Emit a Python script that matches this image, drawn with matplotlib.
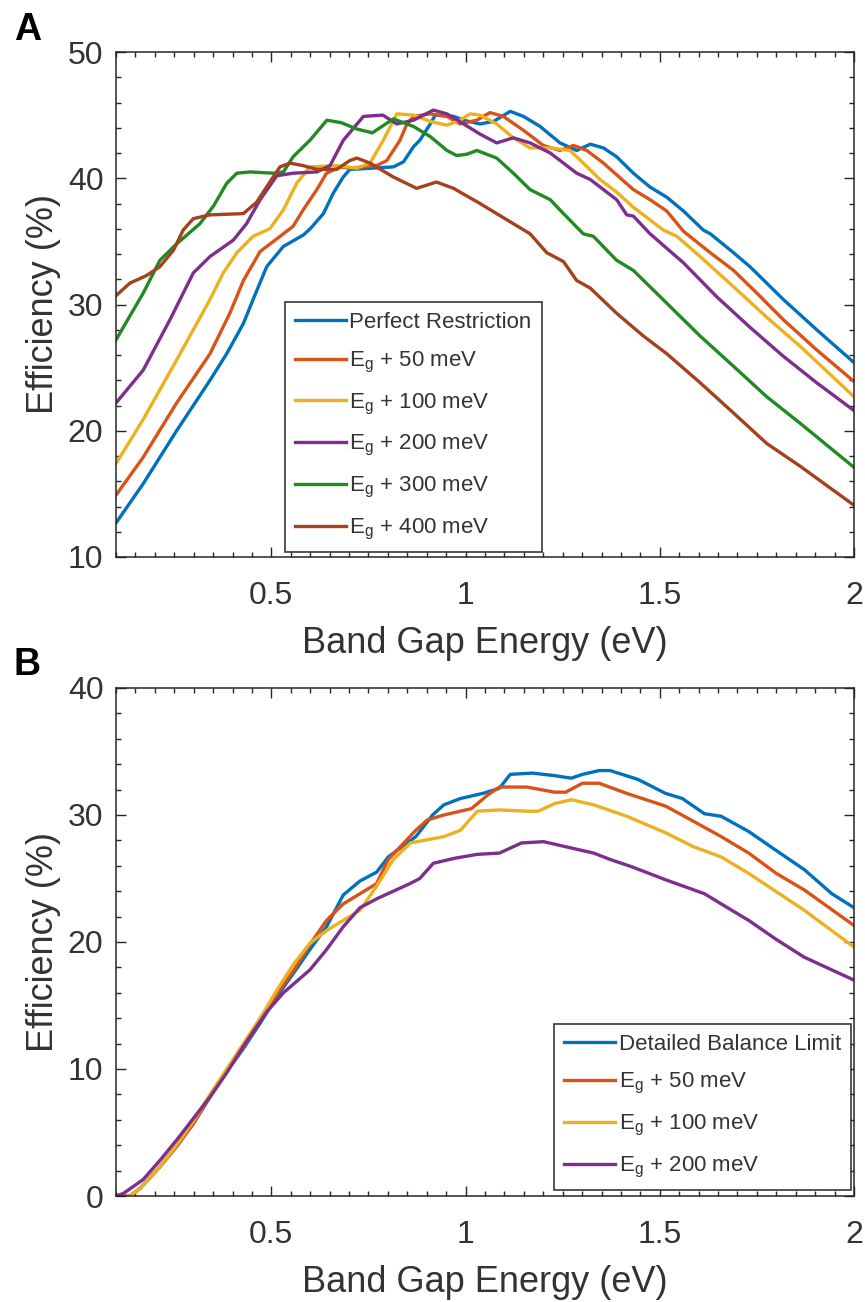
import matplotlib
matplotlib.use('Agg')
import matplotlib.pyplot as plt
from matplotlib.ticker import MultipleLocator

plt.rcParams['font.family'] = ['Liberation Sans', 'DejaVu Sans']

# ---- panel A: restricted emission ----
A_LABELS = ['Perfect Restriction', r'E$_\mathregular{g}$ + 50 meV', r'E$_\mathregular{g}$ + 100 meV',
            r'E$_\mathregular{g}$ + 200 meV', r'E$_\mathregular{g}$ + 300 meV', r'E$_\mathregular{g}$ + 400 meV']
A_COLORS = ['#0072BD', '#D95319', '#EDB120', '#7E2F8E', '#218A21', '#A3421C']

a_x_perfect = [0.10, 0.17, 0.256, 0.342, 0.385, 0.428, 0.453, 0.488, 0.531, 0.582, 0.60, 0.634, 0.659, 0.685,
               0.702, 0.76, 0.814, 0.84, 0.866, 0.882, 0.909, 0.922, 0.969, 0.995, 1.037, 1.072, 1.115, 1.149,
               1.192, 1.243, 1.286, 1.321, 1.355, 1.389, 1.432, 1.475, 1.518, 1.561, 1.612, 1.630, 1.690, 1.732,
               1.775, 1.818, 1.904, 2.0]
a_y_perfect = [12.7, 15.8, 20.0, 24.0, 26.1, 28.5, 30.4, 33.0, 34.6, 35.5, 36.0, 37.2, 38.8, 40.1,
               40.7, 40.8, 40.9, 41.3, 42.5, 43.0, 44.3, 45.0, 44.9, 44.6, 44.3, 44.5, 45.3, 44.9,
               44.1, 42.8, 42.2, 42.7, 42.4, 41.7, 40.4, 39.3, 38.5, 37.4, 35.9, 35.6, 34.1, 33.0,
               31.7, 30.4, 28.0, 25.4]

a_x_50 = [0.10, 0.17, 0.256, 0.342, 0.393, 0.428, 0.471, 0.514, 0.556, 0.582, 0.617, 0.642, 0.677, 0.702,
          0.771, 0.797, 0.831, 0.849, 0.866, 0.909, 0.952, 0.986, 1.029, 1.063, 1.097, 1.149, 1.200, 1.243,
          1.278, 1.312, 1.355, 1.432, 1.475, 1.518, 1.561, 1.630, 1.690, 1.750, 1.818, 1.904, 2.0]
a_y_50 = [14.9, 17.9, 22.2, 26.1, 29.3, 31.9, 34.2, 35.2, 36.2, 37.5, 39.1, 40.4, 40.9, 40.8,
          41.0, 41.4, 43.0, 44.3, 44.9, 45.1, 44.9, 44.3, 44.6, 45.2, 44.9, 43.8, 42.6, 42.2,
          42.6, 42.2, 41.2, 39.1, 38.3, 37.4, 35.8, 34.1, 32.7, 30.9, 28.8, 26.4, 23.9]

a_x_100 = [0.10, 0.17, 0.256, 0.342, 0.376, 0.411, 0.453, 0.496, 0.531, 0.565, 0.599, 0.668, 0.720, 0.754,
           0.788, 0.823, 0.866, 0.909, 0.952, 0.986, 1.012, 1.037, 1.080, 1.123, 1.166, 1.218, 1.269, 1.303,
           1.346, 1.389, 1.432, 1.509, 1.544, 1.604, 1.690, 1.775, 1.861, 2.0]
a_y_100 = [17.4, 20.9, 25.6, 30.4, 32.5, 34.1, 35.4, 36.0, 37.5, 39.6, 40.9, 41.0, 40.8, 41.2,
           43.0, 45.1, 45.0, 44.5, 44.2, 44.6, 45.1, 45.0, 44.3, 43.2, 42.4, 42.4, 42.2, 41.2,
           39.9, 38.9, 37.7, 35.9, 35.4, 33.8, 31.4, 29.0, 26.7, 22.7]

a_x_200 = [0.10, 0.17, 0.239, 0.299, 0.342, 0.402, 0.436, 0.471, 0.514, 0.556, 0.617, 0.651, 0.685, 0.737,
           0.787, 0.823, 0.866, 0.917, 0.952, 0.995, 1.037, 1.080, 1.123, 1.166, 1.218, 1.286, 1.321, 1.389,
           1.415, 1.432, 1.475, 1.561, 1.647, 1.732, 1.818, 1.904, 2.0]
a_y_200 = [22.2, 24.8, 28.8, 32.5, 33.8, 35.1, 36.4, 38.3, 40.2, 40.4, 40.5, 41.0, 43.0, 44.9,
           45.0, 44.3, 44.6, 45.4, 45.1, 44.3, 43.5, 42.8, 43.2, 42.8, 42.0, 40.4, 39.9, 38.3,
           37.1, 37.0, 35.6, 33.3, 30.6, 28.2, 25.9, 23.8, 21.6]

a_x_300 = [0.10, 0.17, 0.213, 0.256, 0.316, 0.351, 0.385, 0.411, 0.445, 0.505, 0.531, 0.556, 0.599, 0.643,
           0.68, 0.72, 0.76, 0.814, 0.866, 0.909, 0.952, 0.977, 1.003, 1.029, 1.080, 1.123, 1.166, 1.218,
           1.252, 1.303, 1.329, 1.389, 1.432, 1.518, 1.604, 1.690, 1.775, 1.861, 2.0]
a_y_300 = [27.2, 30.9, 33.5, 34.8, 36.4, 37.8, 39.6, 40.4, 40.5, 40.4, 40.5, 41.7, 43.0, 44.6,
           44.4, 43.9, 43.6, 44.7, 44.1, 43.3, 42.2, 41.8, 41.9, 42.2, 41.6, 40.4, 39.1, 38.3,
           37.2, 35.6, 35.4, 33.5, 32.7, 30.1, 27.5, 25.1, 22.7, 20.6, 17.1]

a_x_400 = [0.10, 0.136, 0.179, 0.213, 0.248, 0.273, 0.299, 0.342, 0.428, 0.462, 0.496, 0.522, 0.548, 0.582,
           0.617, 0.668, 0.702, 0.720, 0.754, 0.814, 0.874, 0.925, 0.969, 1.037, 1.123, 1.166, 1.209, 1.252,
           1.286, 1.321, 1.389, 1.458, 1.518, 1.604, 1.690, 1.775, 1.861, 2.0]
a_y_400 = [30.7, 31.7, 32.3, 33.0, 34.3, 35.9, 36.8, 37.1, 37.2, 38.1, 39.7, 40.9, 41.2, 41.0,
           40.7, 40.7, 41.4, 41.6, 41.2, 40.1, 39.2, 39.7, 39.2, 38.0, 36.4, 35.6, 34.1, 33.4,
           31.9, 31.3, 29.3, 27.5, 26.1, 23.8, 21.4, 19.0, 17.2, 14.1]

# ---- panel B: non-ideal absorption ----
B_LABELS = ['Detailed Balance Limit', r'E$_\mathregular{g}$ + 50 meV', r'E$_\mathregular{g}$ + 100 meV',
            r'E$_\mathregular{g}$ + 200 meV']
B_COLORS = A_COLORS[:4]

b_x_db = [0.10, 0.136, 0.162, 0.213, 0.256, 0.299, 0.342, 0.385, 0.428, 0.471, 0.514, 0.556, 0.599, 0.642,
          0.685, 0.728, 0.771, 0.801, 0.872, 0.915, 0.944, 0.987, 1.044, 1.087, 1.115, 1.172, 1.229, 1.272,
          1.301, 1.344, 1.372, 1.444, 1.515, 1.558, 1.615, 1.658, 1.729, 1.800, 1.872, 1.943, 2.0]
b_y_db = [0.0, 0.0, 0.6, 2.3, 3.9, 5.7, 7.8, 9.8, 11.6, 13.6, 15.7, 17.5, 19.4, 21.2,
          23.7, 24.8, 25.5, 26.7, 28.3, 30.0, 30.8, 31.3, 31.7, 32.1, 33.2, 33.3, 33.1, 32.9,
          33.2, 33.5, 33.5, 32.8, 31.7, 31.3, 30.1, 29.9, 28.7, 27.2, 25.7, 23.8, 22.7]

b_x_50 = [0.10, 0.136, 0.162, 0.213, 0.256, 0.299, 0.342, 0.385, 0.428, 0.471, 0.514, 0.556, 0.599, 0.642,
          0.685, 0.728, 0.771, 0.801, 0.872, 0.901, 0.944, 1.015, 1.058, 1.087, 1.158, 1.229, 1.258, 1.301,
          1.344, 1.415, 1.515, 1.587, 1.658, 1.729, 1.800, 1.872, 2.0]
b_y_50 = [0.0, 0.0, 0.6, 2.3, 3.9, 5.7, 7.8, 9.8, 11.7, 13.8, 15.9, 17.7, 19.8, 21.7,
          23.0, 23.8, 24.6, 26.5, 28.8, 29.6, 30.0, 30.5, 31.6, 32.2, 32.2, 31.8, 31.8, 32.5,
          32.5, 31.7, 30.7, 29.5, 28.3, 27.0, 25.4, 24.1, 21.3]

b_x_100 = [0.10, 0.136, 0.162, 0.213, 0.256, 0.299, 0.342, 0.385, 0.428, 0.471, 0.514, 0.556, 0.599, 0.642,
           0.685, 0.728, 0.771, 0.814, 0.858, 0.944, 0.987, 1.030, 1.087, 1.158, 1.187, 1.229, 1.272, 1.330,
           1.415, 1.515, 1.587, 1.658, 1.729, 1.872, 2.0]
b_y_100 = [0.0, 0.0, 0.6, 2.3, 4.0, 5.9, 8.0, 10.0, 12.0, 14.0, 16.2, 18.2, 19.9, 20.9,
           21.7, 22.5, 24.4, 26.5, 27.8, 28.3, 28.8, 30.3, 30.4, 30.3, 30.3, 30.9, 31.2, 30.8,
           29.9, 28.6, 27.5, 26.7, 25.4, 22.5, 19.6]

b_x_200 = [0.10, 0.119, 0.170, 0.213, 0.256, 0.299, 0.342, 0.385, 0.428, 0.488, 0.531, 0.599, 0.642, 0.685,
           0.728, 0.771, 0.814, 0.857, 0.882, 0.917, 0.973, 1.030, 1.087, 1.144, 1.201, 1.258, 1.330, 1.372,
           1.430, 1.515, 1.615, 1.658, 1.729, 1.800, 1.872, 2.0]
b_y_200 = [0.0, 0.2, 1.3, 2.8, 4.4, 6.1, 7.8, 9.7, 11.8, 14.5, 16.0, 17.8, 19.4, 21.2,
           22.7, 23.4, 24.0, 24.6, 25.0, 26.2, 26.6, 26.9, 27.0, 27.8, 27.9, 27.5, 27.0, 26.5,
           25.9, 24.9, 23.8, 23.0, 21.7, 20.2, 18.8, 17.0]

TXT = '#333333'


def style_axes(ax, ylim, ymajor):
    ax.set_xlim(0.1, 2)
    ax.set_ylim(*ylim)
    ax.set_xticks([0.5, 1, 1.5, 2])
    ax.set_xticklabels(['0.5', '1', '1.5', '2'])
    ax.yaxis.set_major_locator(MultipleLocator(ymajor))
    ax.xaxis.set_minor_locator(MultipleLocator(0.05))
    ax.yaxis.set_minor_locator(MultipleLocator(2))
    ax.tick_params(which='both', direction='in', top=True, right=True, colors='#262626',
                   labelcolor=TXT, labelsize=23, width=1)
    ax.tick_params(which='major', length=7)
    ax.tick_params(which='minor', length=3.5)
    ax.tick_params(axis='x', which='major', pad=17)
    ax.tick_params(axis='y', which='major', pad=9)
    for s in ax.spines.values():
        s.set_color('#262626')
        s.set_linewidth(1.1)
    ax.set_xlabel('Band Gap Energy (eV)', fontsize=26, color=TXT, labelpad=11)
    ax.set_ylabel('Efficiency (%)', fontsize=26, color=TXT)
    ax.yaxis.set_label_coords(-0.075, 0.5)


def draw_legend(ax, loc, anchor):
    leg = ax.legend(loc=loc, bbox_to_anchor=anchor, fontsize=16, handlelength=2.3, handletextpad=0.15,
                    labelspacing=0.75, borderpad=0.45, borderaxespad=0, fancybox=False,
                    edgecolor='#262626', framealpha=1)
    leg.get_frame().set_linewidth(1.1)
    for t in leg.get_texts():
        t.set_color(TXT)


fig = plt.figure(figsize=(8.65, 13.02), dpi=100)
axA = fig.add_axes([116 / 865, 1 - 557 / 1302, 738 / 865, 505 / 1302])
axB = fig.add_axes([116 / 865, 1 - 1196 / 1302, 738 / 865, 508 / 1302])

a_series = [(a_x_perfect, a_y_perfect), (a_x_50, a_y_50), (a_x_100, a_y_100),
            (a_x_200, a_y_200), (a_x_300, a_y_300), (a_x_400, a_y_400)]
for (xs, ys), lab, col in zip(a_series, A_LABELS, A_COLORS):
    axA.plot(xs, ys, color=col, lw=2.4, label=lab)
style_axes(axA, (10, 50), 10)
draw_legend(axA, 'lower left', (0.229, 0.01))

b_series = [(b_x_db, b_y_db), (b_x_50, b_y_50), (b_x_100, b_y_100), (b_x_200, b_y_200)]
for (xs, ys), lab, col in zip(b_series, B_LABELS, B_COLORS):
    axB.plot(xs, ys, color=col, lw=2.4, label=lab)
style_axes(axB, (0, 40), 10)
draw_legend(axB, 'lower right', (0.996, 0.012))

fig.text(0.016, 1 - 12 / 1302, 'A', fontsize=27, fontweight='bold', va='top', ha='left')
fig.text(0.016, 1 - 647 / 1302, 'B', fontsize=27, fontweight='bold', va='top', ha='left')

fig.savefig('out.png', dpi=100)
